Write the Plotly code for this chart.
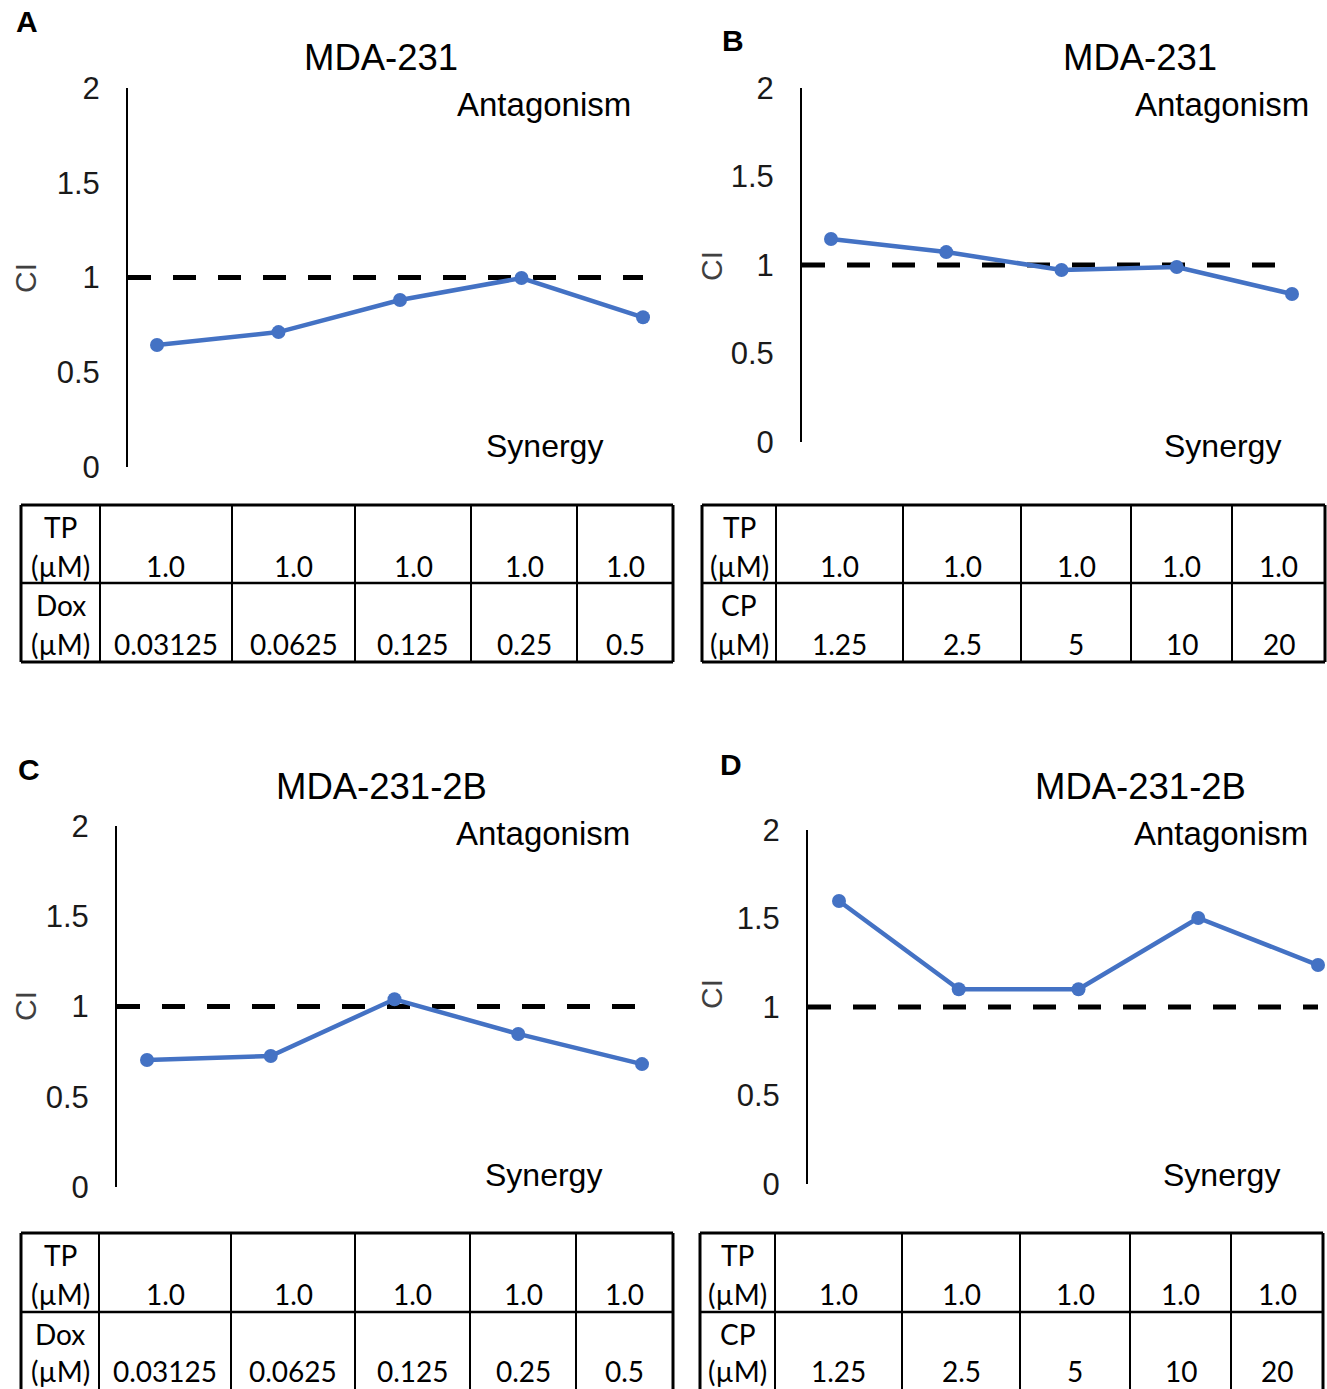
import plotly.graph_objects as go

# ---------------- data ----------------
ci_a = [0.644, 0.712, 0.881, 0.997, 0.79]
ci_b = [1.147, 1.073, 0.972, 0.989, 0.836]
ci_c = [0.704, 0.726, 1.04, 0.848, 0.681]
ci_d = [1.599, 1.10, 1.10, 1.503, 1.237]

titles = ["MDA-231", "MDA-231", "MDA-231-2B", "MDA-231-2B"]
panel_letters = ["A", "B", "C", "D"]

tp_conc = ["1.0", "1.0", "1.0", "1.0", "1.0"]
dox_conc = ["0.03125", "0.0625", "0.125", "0.25", "0.5"]
cp_conc = ["1.25", "2.5", "5", "10", "20"]

drug_a = "Dox"
drug_b = "CP"

y_ticks = [0, 0.5, 1, 1.5, 2]
y_ticktext = ["0", "0.5", "1", "1.5", "2"]
ci_threshold = 1.0

# ---------------- layout (pixel geometry of the page) ----------------
W, H = 1327, 1389
BLUE = "#4472C4"


def fx(px):
    return px / W


def fy(py):
    return 1 - py / H


panels = [
    dict(vals=ci_a, drug=drug_a, conc=dox_conc, axis_x=128, first=157, step=121.5, y0=467, y2=88, right=665,
         title=(381, 57), ant=(544, 104), syn=(544, 446), ci=(25, 278), letter=(27, 22),
         tx=[21, 100, 232, 355, 471, 577, 673], ty=[505, 583, 662], bottom=True),
    dict(vals=ci_b, drug=drug_b, conc=cp_conc, axis_x=802, first=831, step=115.25, y0=442, y2=88, right=1305,
         title=(1140, 57), ant=(1222, 104), syn=(1222, 446), ci=(712, 266), letter=(733, 40),
         tx=[702, 776, 903, 1021, 1131, 1232, 1325], ty=[505, 583, 662], bottom=True),
    dict(vals=ci_c, drug=drug_a, conc=dox_conc, axis_x=117, first=147, step=123.75, y0=1187, y2=826, right=665,
         title=(381, 786), ant=(543, 833), syn=(543, 1175), ci=(25, 1006), letter=(29, 769),
         tx=[21, 99, 231, 355, 470, 576, 673], ty=[1233, 1312, 1391], bottom=False),
    dict(vals=ci_d, drug=drug_b, conc=cp_conc, axis_x=808, first=839, step=119.75, y0=1184, y2=830, right=1327,
         title=(1140, 786), ant=(1221, 833), syn=(1221, 1175), ci=(712, 994), letter=(731, 764),
         tx=[700, 775, 902, 1020, 1130, 1231, 1323], ty=[1233, 1312, 1391], bottom=False),
]

fig = go.Figure()
annotations = []
shapes = []
layout_axes = {}


def ann(text, xy, size, color="black", bold=False, angle=0, family="Liberation Sans"):
    annotations.append(dict(
        text=f"<b>{text}</b>" if bold else text, x=fx(xy[0]), y=fy(xy[1]),
        xref="paper", yref="paper", xanchor="center", yanchor="middle",
        showarrow=False, textangle=angle, borderpad=0,
        font=dict(family=family, size=size, color=color)))


def hline(x0, x1, y, w):
    shapes.append(dict(type="line", xref="paper", yref="paper", x0=fx(x0), x1=fx(x1), y0=fy(y), y1=fy(y),
                       line=dict(color="black", width=w)))


def vline(x, y0, y1, w):
    shapes.append(dict(type="line", xref="paper", yref="paper", x0=fx(x), x1=fx(x), y0=fy(y0), y1=fy(y1),
                       line=dict(color="black", width=w)))


for k, p in enumerate(panels):
    i = k + 1
    xa = "x" if i == 1 else f"x{i}"
    ya = "y" if i == 1 else f"y{i}"
    n = len(p["vals"])
    xs = list(range(n))
    xmin = (p["axis_x"] - p["first"]) / p["step"]
    xmax = (p["right"] - p["first"]) / p["step"]

    # reference line CI = 1
    fig.add_trace(go.Scatter(x=[xmin, xs[-1]], y=[ci_threshold, ci_threshold], mode="lines",
                             line=dict(color="black", width=5, dash="23px,22px"),
                             xaxis=xa, yaxis=ya, hoverinfo="skip"))
    # CI values
    fig.add_trace(go.Scatter(x=xs, y=p["vals"], mode="lines+markers",
                             line=dict(color=BLUE, width=4.5),
                             marker=dict(color=BLUE, size=14),
                             xaxis=xa, yaxis=ya, cliponaxis=False))

    layout_axes[f"xaxis{'' if i == 1 else i}"] = dict(
        domain=[fx(p["axis_x"]), min(1, fx(p["right"]))], range=[xmin, xmax], visible=False, anchor=ya,
        automargin=False)
    layout_axes[f"yaxis{'' if i == 1 else i}"] = dict(
        domain=[fy(p["y0"]), fy(p["y2"])], range=[0, 2], anchor=xa, automargin=False,
        tickvals=y_ticks, ticktext=y_ticktext, showline=True, linecolor="black", linewidth=2,
        showgrid=False, zeroline=False, ticks="", ticklabelstandoff=20,
        tickfont=dict(family="Liberation Sans", size=31, color="#1a1a1a"))

    # text of the panel
    ann(titles[k], p["title"], 36.5)
    ann("Antagonism", p["ant"], 33)
    ann("Synergy", p["syn"], 32)
    ann("CI", p["ci"], 30, color="#404040", angle=-90)
    ann(panel_letters[k], p["letter"], 30, bold=True)

    # table grid
    tx, ty = p["tx"], p["ty"]
    hline(tx[0], tx[-1], ty[0], 3)
    hline(tx[0], tx[-1], ty[1], 2.5)
    if p["bottom"]:
        hline(tx[0], tx[-1], ty[2], 3)
    for j, xv in enumerate(tx):
        vline(xv, ty[0], ty[2], 3 if j in (0, len(tx) - 1) else 2)

    # table text
    rows = [("TP", tp_conc), (p["drug"], p["conc"])]
    for r, (label, vals) in enumerate(rows):
        top = ty[r]
        line1 = top + 22
        line2 = min(top + 61, H - 18)
        cx0 = (tx[0] + tx[1]) / 2
        ann(label, (cx0, line1), 28, family="Lato")
        ann("(µM)", (cx0, line2), 28, family="Lato")
        for c, v in enumerate(vals):
            ann(v, ((tx[c + 1] + tx[c + 2]) / 2, line2), 28, family="Lato")

fig.update_layout(
    width=W, height=H, margin=dict(l=0, r=0, t=0, b=0, autoexpand=False),
    paper_bgcolor="white", plot_bgcolor="white", showlegend=False,
    annotations=annotations, shapes=shapes, **layout_axes)

fig.write_html("out.html", config={"displayModeBar": False},
               post_script="document.body.style.margin='0';document.body.style.overflow='hidden';")
